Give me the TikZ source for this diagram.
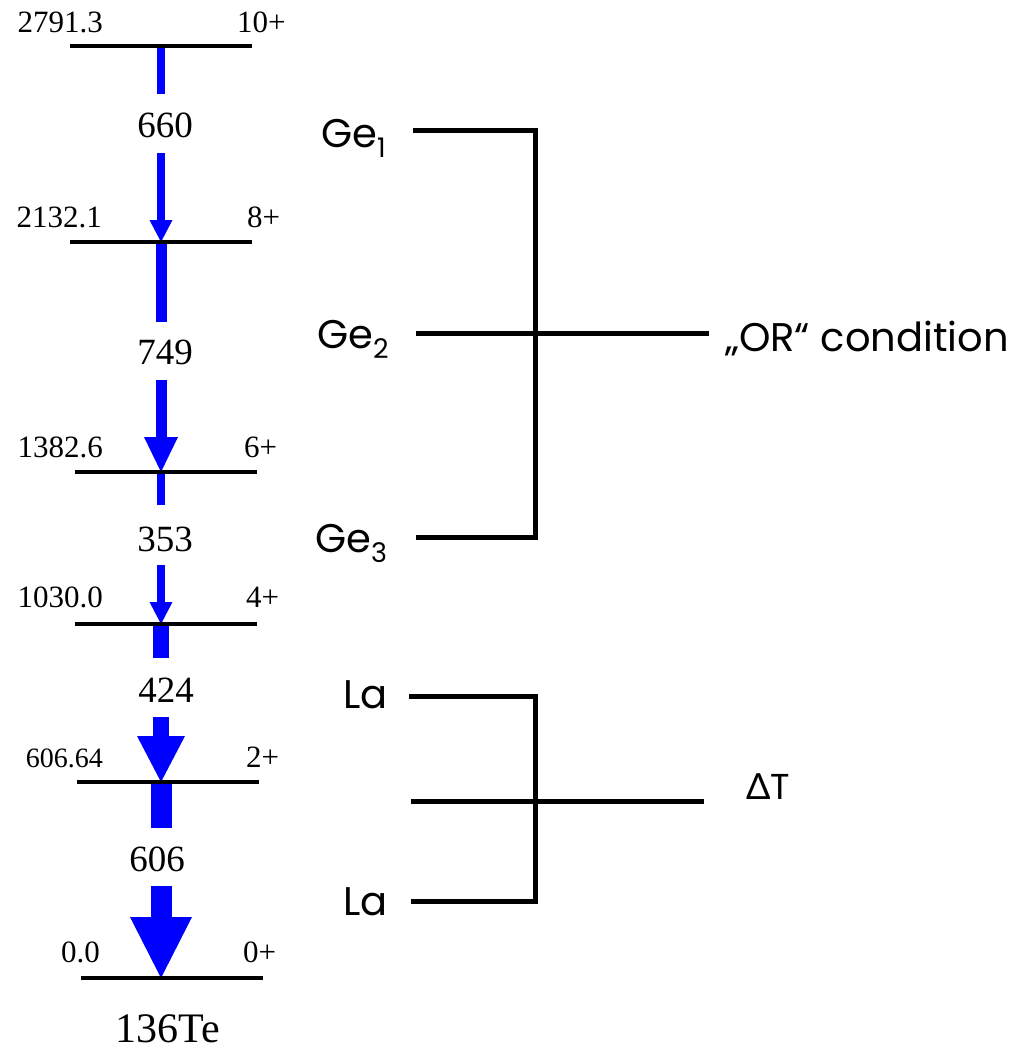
\documentclass[tikz,border=0pt]{standalone}
\usepackage{fontspec}
\setmainfont{Liberation Serif}
\newfontfamily\popfont{Poppins}
\newfontfamily\latofont{Lato}
\usetikzlibrary{arrows.meta}
\begin{document}
\begin{tikzpicture}[x=1pt,y=-1pt,
  lvl/.style={line width=3.5pt, draw=black},
  gam/.style={draw=blue, line width=#1},
  gamtip/.style n args={3}{draw=blue, line width=#1,
     -{Triangle[length=#2, width=#3, line width=0pt, fill=blue]}},
  glab/.style={inner sep=0pt, font=\fontsize{37}{40}\selectfont},
  elab/.style={inner sep=0pt, font=\fontsize{31}{33}\selectfont},
  elabs/.style={inner sep=0pt, font=\fontsize{28}{30}\selectfont},
  det/.style={inner sep=0pt, anchor=base west, font=\popfont\fontsize{40}{42}\selectfont},
  brk/.style={line width=5pt, draw=black},
]
\useasboundingbox (0,0) rectangle (1021,1050);

% level coordinates
\foreach \n/\y/\a/\b in {10/46/70/252, 8/242/70/252, 6/472/75/257, 4/624/75/257, 2/782/77/259, 0/978/81/263}{
  \coordinate (L\n l) at (\a,\y);
  \coordinate (L\n r) at (\b,\y);
  \coordinate (L\n) at (161,\y);
}

% gamma transitions
\coordinate (g660u) at (161,94);  \coordinate (g660d) at (161,153);
\coordinate (g749u) at (161,322); \coordinate (g749d) at (161,380);
\coordinate (g353u) at (161,505); \coordinate (g353d) at (161,565);
\coordinate (g424u) at (161,658); \coordinate (g424d) at (161,717);
\coordinate (g606u) at (161,828); \coordinate (g606d) at (161,886);

\node[glab] (g660) at (165,125) {660};
\node[glab] (g749) at (165,352) {749};
\node[glab] (g353) at (165,539) {353};
\node[glab] (g424) at (166,690) {424};
\node[glab] (g606) at (157,859) {606};

\draw[gam=8pt] (L10) -- (g660u);
\draw[gamtip={8pt}{22pt}{23pt}] (g660d) -- (L8);
\draw[gam=11pt] (L8) -- (g749u);
\draw[gamtip={11pt}{35pt}{34pt}] (g749d) -- (L6);
\draw[gam=8pt] (L6) -- (g353u);
\draw[gamtip={8pt}{22pt}{23pt}] (g353d) -- (L4);
\draw[gam=16pt] (L4) -- (g424u);
\draw[gamtip={16pt}{46pt}{48pt}] (g424d) -- (L2);
\draw[gam=21pt] (L2) -- (g606u);
\draw[gamtip={21pt}{61pt}{62pt}] (g606d) -- (L0);

% levels
\foreach \n in {10,8,6,4,2,0}{ \draw[lvl] (L\n l) -- (L\n r); }

% level labels
\node[elab, anchor=base east] (e10) at (103,32) {2791.3};
\node[elab, anchor=base west] (s10) at (237,32) {10+};
\node[elab, anchor=base east] (e8) at (102,227) {2132.1};
\node[elab, anchor=base west] (s8) at (247,227) {8+};
\node[elab, anchor=base east] (e6) at (103,457) {1382.6};
\node[elab, anchor=base west] (s6) at (244,457) {6+};
\node[elab, anchor=base east] (e4) at (103,607) {1030.0};
\node[elab, anchor=base west] (s4) at (246,607) {4+};
\node[elabs, anchor=base east] (e2) at (103,767) {606.64};
\node[elab, anchor=base west] (s2) at (246,767) {2+};
\node[elab, anchor=base east] (e0) at (100,962) {0.0};
\node[elab, anchor=base west] (s0) at (243,962) {0+};

\node[inner sep=0pt, anchor=base, font=\fontsize{42}{44}\selectfont] (nuc) at (168,1042) {136Te};

% Ge detectors
\coordinate (G1a) at (413,130); \coordinate (G1b) at (535,130);
\coordinate (G2a) at (416,333); \coordinate (G2b) at (709,333);
\coordinate (G3a) at (416,537); \coordinate (G3b) at (535,537);
\draw[brk] (G1a) -- (G1b) -- (G3b) -- (G3a);
\draw[brk] (G2a) -- (G2b);
\node[det] (ge1) at (321,147) {Ge\raisebox{-0.27em}{\fontsize{27}{29}\selectfont 1}};
\node[det] (ge2) at (317,348) {Ge\raisebox{-0.27em}{\fontsize{27}{29}\selectfont 2}};
\node[det] (ge3) at (315,552) {Ge\raisebox{-0.27em}{\fontsize{27}{29}\selectfont 3}};
\node[det] (orc) at (725,351) {„OR“ condition};

% La detectors
\coordinate (La1a) at (409,696); \coordinate (La1b) at (535,696);
\coordinate (Lmid) at (411,801); \coordinate (Lmidb) at (704,801);
\coordinate (La2a) at (411,901); \coordinate (La2b) at (535,901);
\draw[brk] (La1a) -- (La1b) -- (La2b) -- (La2a);
\draw[brk] (Lmid) -- (Lmidb);
\node[det] (la1) at (343,708) {La};
\node[det] (la2) at (343,915) {La};
\node[det, font=\popfont\fontsize{36}{38}\selectfont] (dt) at (746,799) {{\latofont Δ}T};
\end{tikzpicture}
\end{document}
